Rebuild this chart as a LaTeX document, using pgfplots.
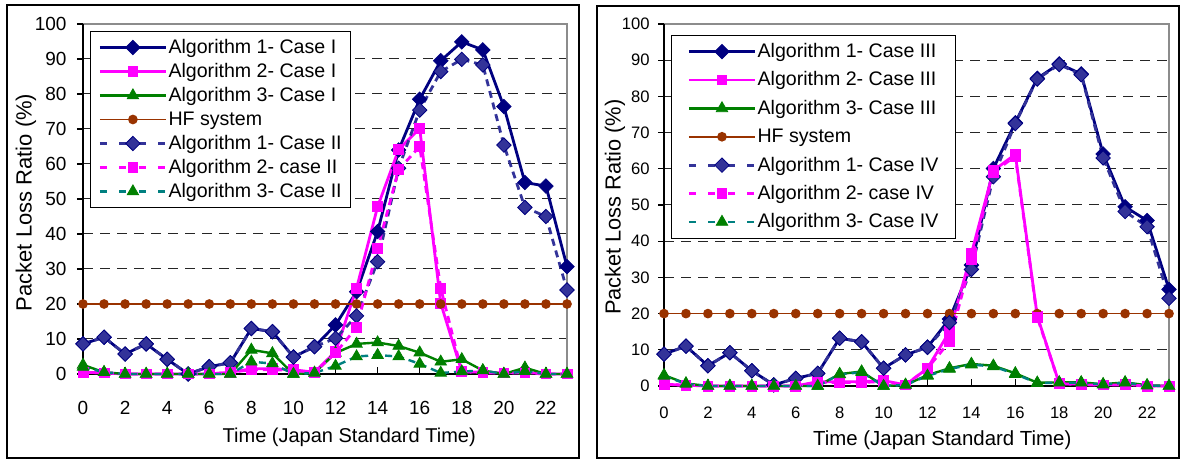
\documentclass[border=0pt]{standalone}
\usepackage{pgfplots}
\pgfplotsset{compat=1.18}
\usepackage{fontspec}
\setmainfont{Liberation Sans}
\definecolor{navyA}{HTML}{000080}
\definecolor{navyB}{HTML}{333399}
\definecolor{magA}{HTML}{FF00FF}
\definecolor{grnA}{HTML}{008000}
\definecolor{tealA}{HTML}{008080}
\definecolor{hfA}{HTML}{993300}
\definecolor{bordgray}{HTML}{8C8C8C}
\pgfplotsset{
 a1s/.style={navyA, line width=1.4pt, mark=square*, mark size=2.55pt, mark options={rotate=45, solid, fill=navyA, draw=navyA, line width=0.4pt}},
 a2s/.style={magA, line width=1.4pt, mark=square*, mark size=2.45pt, mark options={solid, fill=magA, draw=magA, line width=0.4pt}},
 a3s/.style={grnA, line width=1.2pt, mark=triangle*, mark size=3.3pt, mark options={solid, fill=grnA, draw=grnA, line width=0.4pt}},
 hfs/.style={hfA, line width=0.8pt, mark=*, mark size=2pt, mark options={solid, fill=hfA, draw=hfA}},
 a1d/.style={navyB, line width=1.4pt, dash pattern=on 3.5pt off 2.5pt, mark=square*, mark size=2.55pt, mark options={rotate=45, solid, fill=navyB, draw=navyA, line width=0.4pt}, legend image post style={dash pattern=on 3.5pt off 6.25pt}},
 a2d/.style={magA, line width=1.4pt, dash pattern=on 3.5pt off 2.5pt, mark=square*, mark size=2.45pt, mark options={solid, fill=magA, draw=magA, line width=0.4pt}, legend image post style={dash pattern=on 3.5pt off 6.25pt}},
 a3d/.style={tealA, line width=1.2pt, dash pattern=on 3.5pt off 2.5pt, mark=triangle*, mark size=3.3pt, mark options={solid, fill=grnA, draw=grnA, line width=0.4pt}, legend image post style={dash pattern=on 3.5pt off 6.25pt}},
 bgaxis/.style={scale only axis, anchor=south west, xmin=0, xmax=23, ymin=0, ymax=100,
   axis line style={bordgray, line width=0.8pt},
   xtick={0,2,...,22}, ytick={10,20,...,90}, xticklabels={}, yticklabels={},
   tick align=inside, major tick length=3.5pt, xtick pos=left, 
   x tick style={black, line width=0.6pt}, y tick style={draw=none},
   ymajorgrids, grid style={black!85, line width=0.5pt, dash pattern=on 5pt off 3.5pt}},
 fgaxis/.style={scale only axis, anchor=south west, xmin=0, xmax=23, ymin=0, ymax=100, clip=false,
   axis x line=bottom, axis y line=left, axis line style={-, black, line width=0.8pt},
   xtick={0,2,...,22}, ytick={0,10,...,100},
   tick align=outside, major tick length=3pt, tick style={black, line width=0.6pt},
   x tick style={draw=none},
   /pgf/number format/assume math mode=true,
   legend cell align=left,
   legend image code/.code={\draw[mark repeat=2,mark phase=2,##1] plot coordinates {(0pt,0pt) (16.5pt,0pt) (33pt,0pt)};}},
}
\begin{document}
\begin{tikzpicture}[x=1pt,y=1pt]
\path (0,0) rectangle (590.5,230);
\draw[line width=1pt] (3.5,1) rectangle (289.5,227.5);
\draw[line width=1pt] (298.5,1) rectangle (589.5,227);
% ---------------- left chart
\begin{axis}[bgaxis, at={(41.5pt,43pt)}, width=242pt, height=175pt]
\end{axis}
\begin{axis}[fgaxis, at={(41.5pt,43pt)}, width=242pt, height=175pt,
  tick label style={font=\fontsize{9.5}{11}\selectfont},
  xticklabel style={yshift=-7pt},
  yticklabel style={xshift=-1.7pt},
  xlabel={Time (Japan Standard Time)}, ylabel={Packet Loss Ratio (\%)},
  xlabel style={font=\fontsize{10}{12}\selectfont, at={(axis description cs:0.55,-0.18)}, anchor=center},
  ylabel style={font=\fontsize{11}{13}\selectfont, at={(axis description cs:-0.118,0.49)}, anchor=center},
  legend style={at={(rel axis cs:0.0145,0.98)}, anchor=north west, draw=black, line width=0.5pt,
    font=\fontsize{9.8}{11}\selectfont, inner xsep=4pt, inner ysep=2pt, row sep=0pt,
    nodes={inner sep=0.6pt, text height=8.3pt, text depth=2.5pt}},
]
\addplot[a1s] coordinates {(0,8.6)(1,10.5)(2,5.7)(3,8.6)(4,4.2)(5,0)(6,2.1)(7,3.2)(8,13.0)(9,12.1)(10,4.9)(11,7.8)(12,14.0)(13,23.5)(14,40.7)(15,64.0)(16,78.5)(17,89.5)(18,94.9)(19,92.6)(20,76.4)(21,54.7)(22,53.7)(23,30.7)};
\addlegendentry{Algorithm 1- Case I}
\addplot[a2s] coordinates {(0,0.5)(1,0.3)(2,0)(3,0)(4,0)(5,0)(6,0)(7,0.5)(8,1.5)(9,1.5)(10,1.2)(11,0.5)(12,6.4)(13,24.5)(14,47.8)(15,64.1)(16,70.2)(17,20.2)(18,0.7)(19,0.5)(20,0.3)(21,0.5)(22,0)(23,0)};
\addlegendentry{Algorithm 2- Case I}
\addplot[a3s] coordinates {(0,2.6)(1,0.5)(2,0)(3,0)(4,0)(5,0)(6,0)(7,0)(8,6.9)(9,5.9)(10,0)(11,0.3)(12,6.0)(13,8.6)(14,9.0)(15,8.0)(16,6.1)(17,3.5)(18,4.2)(19,1.0)(20,0)(21,1.8)(22,0)(23,0)};
\addlegendentry{Algorithm 3- Case I}
\addplot[hfs] coordinates {(0,20)(1,20)(2,20)(3,20)(4,20)(5,20)(6,20)(7,20)(8,20)(9,20)(10,20)(11,20)(12,20)(13,20)(14,20)(15,20)(16,20)(17,20)(18,20)(19,20)(20,20)(21,20)(22,20)(23,20)};
\addlegendentry{HF system}
\addplot[a1d] coordinates {(0,8.6)(1,10.5)(2,5.7)(3,8.6)(4,4.2)(5,0)(6,2.1)(7,3.2)(8,13.0)(9,12.1)(10,4.8)(11,7.8)(12,10.2)(13,16.6)(14,32.1)(15,58.8)(16,75.4)(17,86.4)(18,89.9)(19,88.3)(20,65.4)(21,47.6)(22,45.0)(23,24.0)};
\addlegendentry{Algorithm 1- Case II}
\addplot[a2d] coordinates {(0,0.5)(1,0.3)(2,0)(3,0)(4,0)(5,0)(6,0)(7,0.5)(8,1.2)(9,1.2)(10,1.0)(11,0.5)(12,6.0)(13,13.3)(14,35.9)(15,58.4)(16,65.0)(17,24.5)(18,0.7)(19,0.3)(20,0.3)(21,0.3)(22,0)(23,0)};
\addlegendentry{Algorithm 2- case II}
\addplot[a3d] coordinates {(0,2.0)(1,0.5)(2,0)(3,0)(4,0)(5,0)(6,0)(7,0)(8,3.5)(9,3.0)(10,0)(11,0.3)(12,2.3)(13,5.0)(14,5.4)(15,5.0)(16,2.9)(17,0.3)(18,0.7)(19,1.0)(20,0)(21,0.8)(22,0)(23,0)};
\addlegendentry{Algorithm 3- Case II}
\end{axis}
% ---------------- right chart
\begin{axis}[bgaxis, at={(332pt,37pt)}, width=252.5pt, height=181pt]
\end{axis}
\begin{axis}[fgaxis, at={(332pt,37pt)}, width=252.5pt, height=181pt,
  tick label style={font=\fontsize{8.3}{10}\selectfont},
  xticklabel style={yshift=-4pt},
  yticklabel style={xshift=-0.7pt},
  xlabel={Time (Japan Standard Time)}, ylabel={Packet Loss Ratio (\%)},
  xlabel style={font=\fontsize{10.2}{12}\selectfont, at={(axis description cs:0.551,-0.149)}, anchor=center},
  ylabel style={font=\fontsize{10.9}{13}\selectfont, at={(axis description cs:-0.097,0.494)}, anchor=center},
  legend style={at={(rel axis cs:0.014,0.97)}, anchor=north west, draw=black, line width=0.5pt,
    font=\fontsize{9.8}{11}\selectfont, inner xsep=8pt, inner ysep=1pt, row sep=0pt,
    nodes={inner sep=0.6pt, text height=9.5pt, text depth=3.5pt}},
]
\addplot[a1s] coordinates {(0,8.8)(1,11.0)(2,5.6)(3,9.2)(4,4.2)(5,0.3)(6,2.1)(7,3.5)(8,13.2)(9,12.2)(10,4.9)(11,8.6)(12,10.7)(13,18.5)(14,33.4)(15,60.1)(16,72.7)(17,85.0)(18,89.0)(19,86.2)(20,64.1)(21,49.5)(22,45.7)(23,26.7)};
\addlegendentry{Algorithm 1- Case III}
\addplot[a2s] coordinates {(0,0.5)(1,0.2)(2,0)(3,0)(4,0)(5,0)(6,0)(7,1.2)(8,1.2)(9,1.2)(10,1.5)(11,0.3)(12,4.9)(13,15.0)(14,36.6)(15,59.5)(16,64.0)(17,19.3)(18,0.7)(19,0.5)(20,0.3)(21,0.5)(22,0)(23,0)};
\addlegendentry{Algorithm 2- Case III}
\addplot[a3s] coordinates {(0,3.0)(1,0.7)(2,0)(3,0)(4,0)(5,0)(6,0)(7,0)(8,3.3)(9,4.0)(10,0)(11,0.3)(12,3.0)(13,4.9)(14,6.1)(15,5.6)(16,3.5)(17,0.9)(18,1.0)(19,1.0)(20,0.5)(21,1.0)(22,0.2)(23,0)};
\addlegendentry{Algorithm 3- Case III}
\addplot[hfs] coordinates {(0,20)(1,20)(2,20)(3,20)(4,20)(5,20)(6,20)(7,20)(8,20)(9,20)(10,20)(11,20)(12,20)(13,20)(14,20)(15,20)(16,20)(17,20)(18,20)(19,20)(20,20)(21,20)(22,20)(23,20)};
\addlegendentry{HF system}
\addplot[a1d] coordinates {(0,8.8)(1,11.0)(2,5.6)(3,9.2)(4,4.2)(5,0.3)(6,2.1)(7,3.5)(8,13.2)(9,12.2)(10,4.9)(11,8.6)(12,10.7)(13,17.5)(14,32.2)(15,57.8)(16,72.5)(17,84.8)(18,88.8)(19,86.0)(20,63.0)(21,48.2)(22,44.0)(23,24.2)};
\addlegendentry{Algorithm 1- Case IV}
\addplot[a2d] coordinates {(0,0.5)(1,0.2)(2,0)(3,0)(4,0)(5,0)(6,0)(7,1.0)(8,1.0)(9,1.0)(10,1.2)(11,0.3)(12,4.9)(13,12.2)(14,35.0)(15,59.0)(16,63.5)(17,19.0)(18,0.7)(19,0.3)(20,0.3)(21,0.3)(22,0)(23,0)};
\addlegendentry{Algorithm 2- case IV}
\addplot[a3d] coordinates {(0,2.8)(1,0.6)(2,0)(3,0)(4,0)(5,0)(6,0)(7,0)(8,3.2)(9,3.8)(10,0)(11,0.3)(12,2.8)(13,4.7)(14,5.9)(15,5.4)(16,3.3)(17,0.8)(18,0.9)(19,0.9)(20,0.4)(21,0.9)(22,0.1)(23,0)};
\addlegendentry{Algorithm 3- Case IV}
\end{axis}
\end{tikzpicture}
\end{document}
